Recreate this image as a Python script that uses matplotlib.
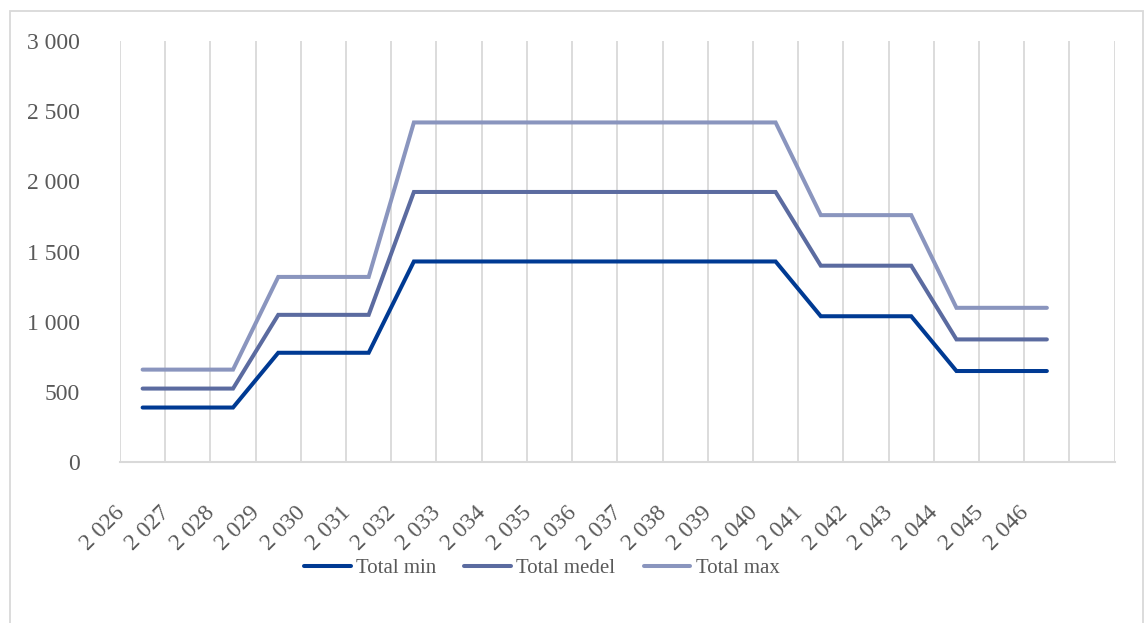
import matplotlib.pyplot as plt
import matplotlib.transforms as mtransforms
from matplotlib.patches import Rectangle
import numpy as np

plt.rcParams['font.family'] = ['Liberation Serif', 'DejaVu Serif']

# år 2026-2046, plus en tom kategori i slutet
years = list(range(2026, 2047))
year_labels = ['2 %03d' % (y - 2000) for y in years] + ['']

total_min = [390, 390, 390, 780, 780, 780, 1430, 1430, 1430, 1430, 1430,
             1430, 1430, 1430, 1430, 1040, 1040, 1040, 650, 650, 650]
total_medel = [525, 525, 525, 1050, 1050, 1050, 1925, 1925, 1925, 1925, 1925,
               1925, 1925, 1925, 1925, 1400, 1400, 1400, 875, 875, 875]
total_max = [660, 660, 660, 1320, 1320, 1320, 2420, 2420, 2420, 2420, 2420,
             2420, 2420, 2420, 2420, 1760, 1760, 1760, 1100, 1100, 1100]

series = [('Total min', total_min, '#003A93'),
          ('Total medel', total_medel, '#5B6BA0'),
          ('Total max', total_max, '#8A95BE')]

txt = '#595959'
grid = '#D9D9D9'

fig = plt.figure(figsize=(11.44, 6.23), dpi=100)
ax = fig.add_axes([120/1144, (623-462.3)/623, (1114.7-120)/1144, (462.3-41)/623])

x = np.arange(len(years))
for name, vals, col in series:
    ax.plot(x, vals, color=col, lw=2.9, label=name, solid_capstyle='round',
            solid_joinstyle='miter')

ax.set_xlim(-0.5, len(year_labels) - 0.5)
ax.set_ylim(0, 3000)

# vertikala stödlinjer mellan kategorierna
for gx in np.arange(-0.5, len(year_labels), 1.0):
    ax.axvline(gx, color=grid, lw=1.3, zorder=0)

for s in ['top', 'right', 'left']:
    ax.spines[s].set_visible(False)
ax.spines['bottom'].set_color(grid)
ax.spines['bottom'].set_linewidth(1.5)

ax.set_yticks(np.arange(0, 3001, 500))
ax.set_yticklabels(['{:,}'.format(v).replace(',', ' ') for v in range(0, 3001, 500)])
ax.tick_params(axis='y', length=0, pad=29, labelsize=17, labelcolor=txt)

ax.set_xticks(np.arange(len(year_labels)))
ax.set_xticklabels(year_labels, rotation=45, ha='right', va='top')
ax.tick_params(axis='x', length=0, pad=29, labelsize=17, labelcolor=txt)
shift = mtransforms.ScaledTranslation(-14/100, 0, fig.dpi_scale_trans)
for lab in ax.get_xticklabels():
    lab.set_transform(lab.get_transform() + shift)

leg = fig.legend(loc='center', bbox_to_anchor=(0.4735, (623-568)/623), ncol=3,
                 frameon=False, fontsize=15, handlelength=2.25,
                 handletextpad=0.25, columnspacing=1.35)
for t in leg.get_texts():
    t.set_color(txt)

# ram runt diagrammet
fig.patches.append(Rectangle((10/1144, -0.05), 1133/1144, (623-11)/623 + 0.05,
                             transform=fig.transFigure, fill=False,
                             edgecolor=grid, lw=1.3))

fig.savefig('out.png', dpi=100)
